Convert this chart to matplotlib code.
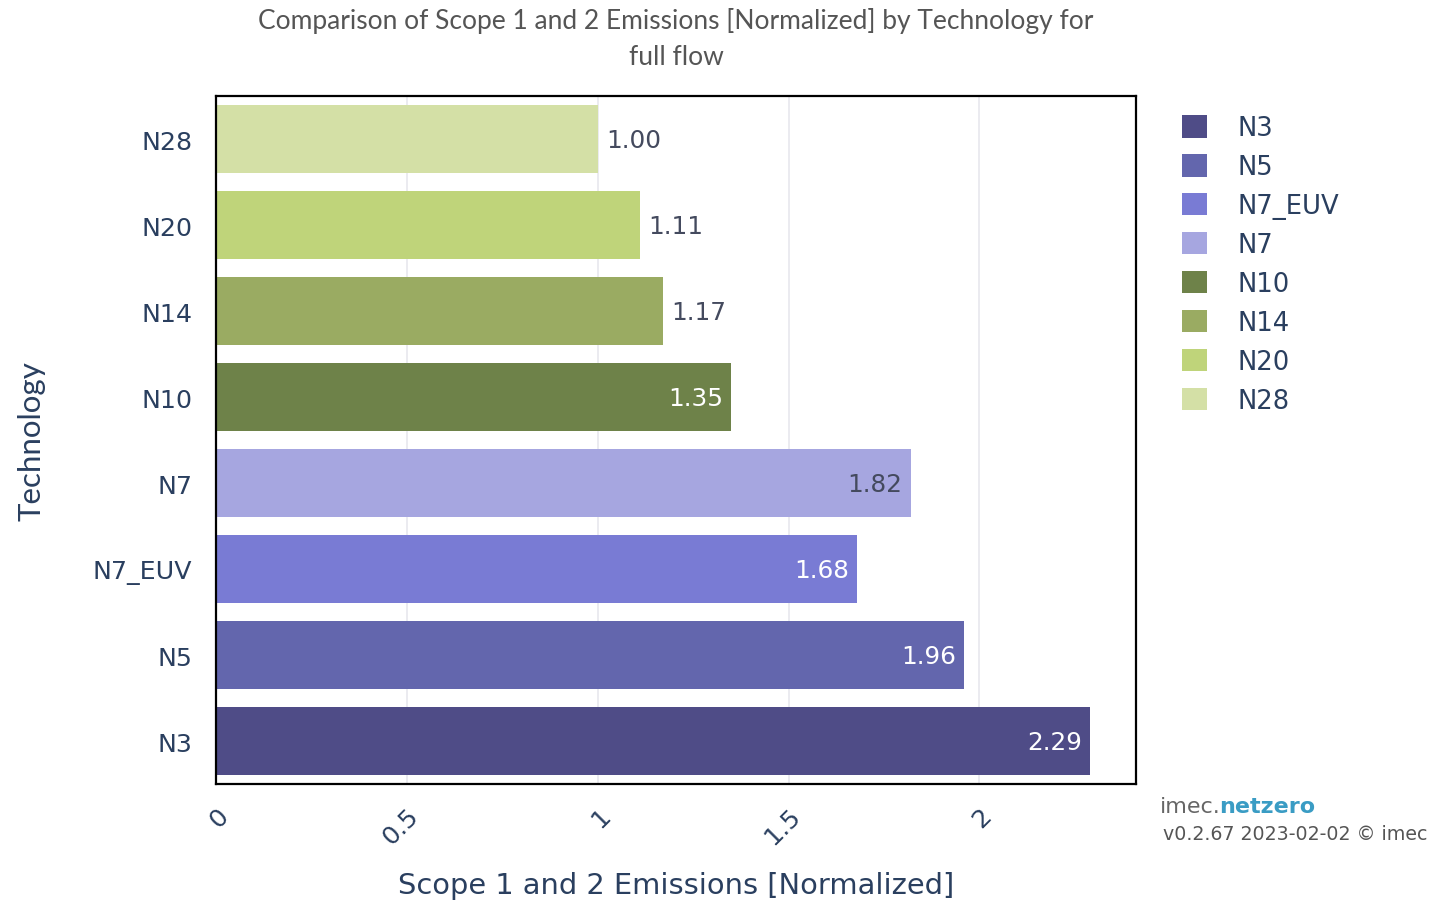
import matplotlib
matplotlib.use("Agg")
import matplotlib.pyplot as plt
from matplotlib.patches import Patch
from matplotlib import font_manager
import matplotlib.colors as mcolors

# ---- data ----
technologies = ["N3", "N5", "N7_EUV", "N7", "N10", "N14", "N20", "N28"]
emissions = [2.29, 1.96, 1.68, 1.82, 1.35, 1.17, 1.11, 1.00]
bar_colors = ["#4f4c87", "#6366ad", "#797bd4", "#a6a6e0",
              "#6e8249", "#9aab62", "#bfd47a", "#d4e0a6"]
x_ticks = [0, 0.5, 1, 1.5, 2]
x_tick_labels = ["0", "0.5", "1", "1.5", "2"]

title_text = "Comparison of Scope 1 and 2 Emissions [Normalized] by Technology for\nfull flow"
xlabel_text = "Scope 1 and 2 Emissions [Normalized]"
ylabel_text = "Technology"

avail = {f.name for f in font_manager.fontManager.ttflist}
narrow = "Liberation Sans Narrow" if "Liberation Sans Narrow" in avail else "Lato"
main_font = "DejaVu Sans"
dark = "#2a3f5f"

plt.rcParams["font.family"] = [main_font]

fig = plt.figure(figsize=(14.32, 9.04), dpi=100)
ax = fig.add_axes([216/1432, 1-785/904, (1136-216)/1432, (785-97)/904])

y_pos = list(range(len(technologies)))
bars = ax.barh(y_pos, emissions, height=0.78, color=bar_colors, zorder=2)

ax.set_xlim(0, 2.41)
ax.set_ylim(-0.5, len(technologies) - 0.5)
ax.set_yticks(y_pos)
ax.set_yticklabels(technologies, fontsize=18.2, color=dark, family=main_font)
ax.set_xticks(x_ticks)
ax.set_xticklabels(x_tick_labels, fontsize=18.2, color=dark, rotation=45,
                   ha="right", va="top", rotation_mode="anchor", family=main_font)
ax.tick_params(axis="both", length=0)
ax.tick_params(axis="y", pad=17)
ax.tick_params(axis="x", pad=14)
ax.grid(axis="x", color="#e8e8ee", linewidth=1.2, zorder=0)
ax.set_axisbelow(True)
for s in ax.spines.values():
    s.set_color("black")
    s.set_linewidth(1.6)

# bar value labels (plotly "auto" style)
for yi, val, col in zip(y_pos, emissions, bar_colors):
    r, g, b = mcolors.to_rgb(col)
    lum = 0.299*r + 0.587*g + 0.114*b
    txt = f"{val:.2f}"
    if val > 1.3:
        tc = "white" if lum < 0.6 else "#444a5e"
        ax.annotate(txt, (val, yi), xytext=(-6, -1), textcoords="offset points",
                    ha="right", va="center", fontsize=17.8, color=tc, zorder=3,
                    family=main_font)
    else:
        ax.annotate(txt, (val, yi), xytext=(6, -1), textcoords="offset points",
                    ha="left", va="center", fontsize=17.8, color="#444a5e", zorder=3,
                    family=main_font)

fig.text(676/1432, 1-39/904, title_text, ha="center", va="center",
         fontsize=19, color="#555555", family=narrow, linespacing=1.55)
fig.text(676/1432, 1-886/904, xlabel_text, ha="center", va="center",
         fontsize=20.8, color=dark, family=main_font)
fig.text(32/1432, 1-441/904, ylabel_text, ha="center", va="center", rotation=90,
         fontsize=22.5, color=dark, family=narrow)

# legend
handles = [Patch(facecolor=c, edgecolor="none") for c in bar_colors]
leg = fig.legend(handles, technologies, loc="upper left",
                 bbox_to_anchor=(1172/1432, 1-106/904), frameon=False,
                 prop={"family": main_font, "size": 18.6},
                 handlelength=0.95, handleheight=0.95,
                 handletextpad=1.2, labelspacing=0.5, borderaxespad=0)
for t in leg.get_texts():
    t.set_color(dark)

# watermark
t1 = fig.text(1160/1432, 1-807/904, "imec.", ha="left", va="center",
              fontsize=16, color="#666666", family=main_font)
fig.canvas.draw()
bb = t1.get_window_extent()
fig.text((bb.x1 - 2)/1432, 1-807/904, "netzero", ha="left", va="center",
         fontsize=16, color="#3a9cc4", fontweight="bold", family=main_font)
fig.text(1163/1432, 1-835/904, "v0.2.67 2023-02-02 \u00a9 imec", ha="left", va="center",
         fontsize=13.7, color="#555555", family=main_font)

fig.savefig("out.png", dpi=100, facecolor="white")
